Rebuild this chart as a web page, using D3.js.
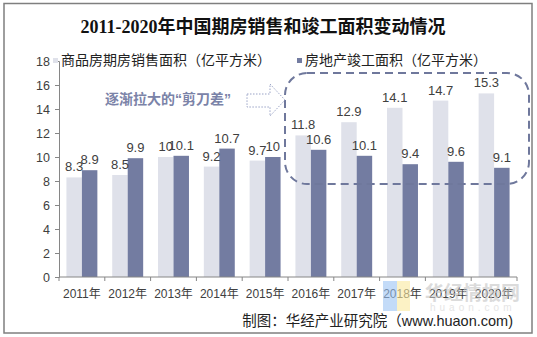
<!DOCTYPE html>
<html>
<head>
<meta charset="utf-8">
<script src="https://cdn.jsdelivr.net/npm/d3@7"></script>
<style>
  body { margin: 0; background: #fff; }
  text { font-family: "Liberation Sans", Arial, "Noto Sans CJK SC", sans-serif; }
</style>
</head>
<body>
<div id="chart"></div>
<script>
// data
var years = ["2011年", "2012年", "2013年", "2014年", "2015年", "2016年", "2017年", "2018年", "2019年", "2020年"];
var salesArea = [8.3, 8.5, 10, 9.2, 9.7, 11.8, 12.9, 14.1, 14.7, 15.3];
var completedArea = [8.9, 9.9, 10.1, 10.7, 10, 10.6, 10.1, 9.4, 9.6, 9.1];
var yTicks = [0, 2, 4, 6, 8, 10, 12, 14, 16, 18];
var seriesNames = ["商品房期房销售面积（亿平方米）", "房地产竣工面积（亿平方米）"];

var W = 537, H = 337;
var lightColor = "#dfe1ea", darkColor = "#737ca1";

var svg = d3.select("#chart")
  .append("svg")
  .attr("width", W)
  .attr("height", H);

// outer frame
svg.append("rect")
  .attr("x", 4).attr("y", 3.5)
  .attr("width", 528).attr("height", 329.5)
  .attr("fill", "none")
  .attr("stroke", "#7f7f7f")
  .attr("stroke-width", 1.5);

// title
svg.append("text")
  .attr("x", 263).attr("y", 33)
  .attr("text-anchor", "middle")
  .style("font-family", "'Liberation Serif', 'Noto Sans CJK SC', serif")
  .style("font-size", "18px")
  .style("font-weight", "bold")
  .attr("fill", "#111")
  .text("2011-2020年中国期房销售和竣工面积变动情况");

// scales
var x = d3.scaleBand()
  .domain(years)
  .range([59, 517]);

var xSub = d3.scaleBand()
  .domain([0, 1])
  .range([0, x.bandwidth()])
  .paddingOuter(0.48);

var y = d3.scaleLinear()
  .domain([0, 18])
  .range([277, 61]);

// y axis
var yAxis = svg.append("g")
  .attr("transform", "translate(59,0)")
  .call(d3.axisLeft(y).tickValues(yTicks).tickSize(4).tickPadding(5));
yAxis.select(".domain").attr("stroke", "#868686");
yAxis.selectAll(".tick line").attr("stroke", "#868686");
yAxis.selectAll(".tick text")
  .attr("fill", "#404040")
  .style("font-size", "12.5px");

// bars
var groups = svg.selectAll(".year")
  .data(years)
  .enter().append("g")
  .attr("class", "year")
  .attr("transform", function(d) { return "translate(" + x(d) + ",0)"; });

groups.append("rect")
  .attr("x", xSub(0))
  .attr("width", xSub.bandwidth())
  .attr("y", function(d, i) { return y(salesArea[i]); })
  .attr("height", function(d, i) { return y(0) - y(salesArea[i]); })
  .attr("fill", lightColor);

groups.append("rect")
  .attr("x", xSub(1))
  .attr("width", xSub.bandwidth())
  .attr("y", function(d, i) { return y(completedArea[i]); })
  .attr("height", function(d, i) { return y(0) - y(completedArea[i]); })
  .attr("fill", darkColor);

// value labels
groups.append("text")
  .attr("x", xSub(0) + xSub.bandwidth() / 2)
  .attr("y", function(d, i) { return y(salesArea[i]) - 6; })
  .attr("text-anchor", "middle")
  .attr("fill", "#404040")
  .style("font-size", "13px")
  .text(function(d, i) { return salesArea[i]; });

groups.append("text")
  .attr("x", xSub(1) + xSub.bandwidth() / 2)
  .attr("y", function(d, i) { return y(completedArea[i]) - 6; })
  .attr("text-anchor", "middle")
  .attr("fill", "#404040")
  .style("font-size", "13px")
  .text(function(d, i) { return completedArea[i]; });

// x axis, ticks between categories
var xAxis = svg.append("g")
  .attr("transform", "translate(0,277)");
xAxis.append("line")
  .attr("x1", 59).attr("x2", 517)
  .attr("stroke", "#868686");
xAxis.selectAll(".xtick")
  .data(years.concat(["end"]))
  .enter().append("line")
  .attr("x1", function(d, i) { return x.range()[0] + i * x.step(); })
  .attr("x2", function(d, i) { return x.range()[0] + i * x.step(); })
  .attr("y1", 0).attr("y2", 4)
  .attr("stroke", "#868686");
xAxis.selectAll(".xlabel")
  .data(years)
  .enter().append("text")
  .attr("x", function(d) { return x(d) + x.bandwidth() / 2; })
  .attr("y", 21)
  .attr("text-anchor", "middle")
  .attr("fill", "#404040")
  .style("font-size", "12px")
  .text(function(d) { return d; });

// legend
var legendX = [53, 297];
var legendColors = [lightColor, darkColor];
seriesNames.forEach(function(name, i) {
  svg.append("rect")
    .attr("x", legendX[i]).attr("y", 58)
    .attr("width", 5).attr("height", 5)
    .attr("fill", legendColors[i]);
  svg.append("text")
    .attr("x", legendX[i] + 8).attr("y", 65)
    .attr("fill", "#222")
    .style("font-size", "14px")
    .text(name);
});

// dashed box around the widening gap
svg.append("rect")
  .attr("x", 285).attr("y", 73)
  .attr("width", 244).attr("height", 111)
  .attr("rx", 22).attr("ry", 22)
  .attr("fill", "none")
  .attr("stroke", "#6f789c")
  .attr("stroke-width", 2)
  .attr("stroke-dasharray", "8,5");

// annotation text and dotted arrow
svg.append("text")
  .attr("x", 105).attr("y", 104)
  .attr("fill", "#7b83a8")
  .style("font-size", "14px")
  .style("font-weight", "bold")
  .text("逐渐拉大的“剪刀差”");

svg.append("path")
  .attr("d", "M247,94 L270,94 L270,84 L285,100 L270,116 L270,107 L247,107 Z")
  .attr("fill", "none")
  .attr("stroke", "#9aa3c6")
  .attr("stroke-width", 1)
  .attr("stroke-dasharray", "1.5,1.5");

// watermark, drawn faint behind the source line
var wm = svg.append("g").attr("opacity", 0.6);
wm.append("rect")
  .attr("x", 383).attr("y", 281).attr("width", 14).attr("height", 30)
  .attr("fill", "#9cc4f4");
wm.append("rect")
  .attr("x", 397).attr("y", 281).attr("width", 13).attr("height", 30)
  .attr("fill", "#fbeaa0");
wm.append("text")
  .attr("x", 425).attr("y", 300)
  .attr("fill", "#c4c4c4")
  .style("font-size", "19px")
  .style("font-weight", "bold")
  .text("华经情报网");
wm.append("text")
  .attr("x", 430).attr("y", 311)
  .attr("fill", "#d4d4d4")
  .style("font-size", "10px")
  .style("letter-spacing", "4px")
  .text("huaon.com");

// source
svg.append("text")
  .attr("x", 513).attr("y", 326)
  .attr("text-anchor", "end")
  .attr("fill", "#222")
  .style("font-size", "14.5px")
  .text("制图：华经产业研究院（www.huaon.com)");
</script>
</body>
</html>
